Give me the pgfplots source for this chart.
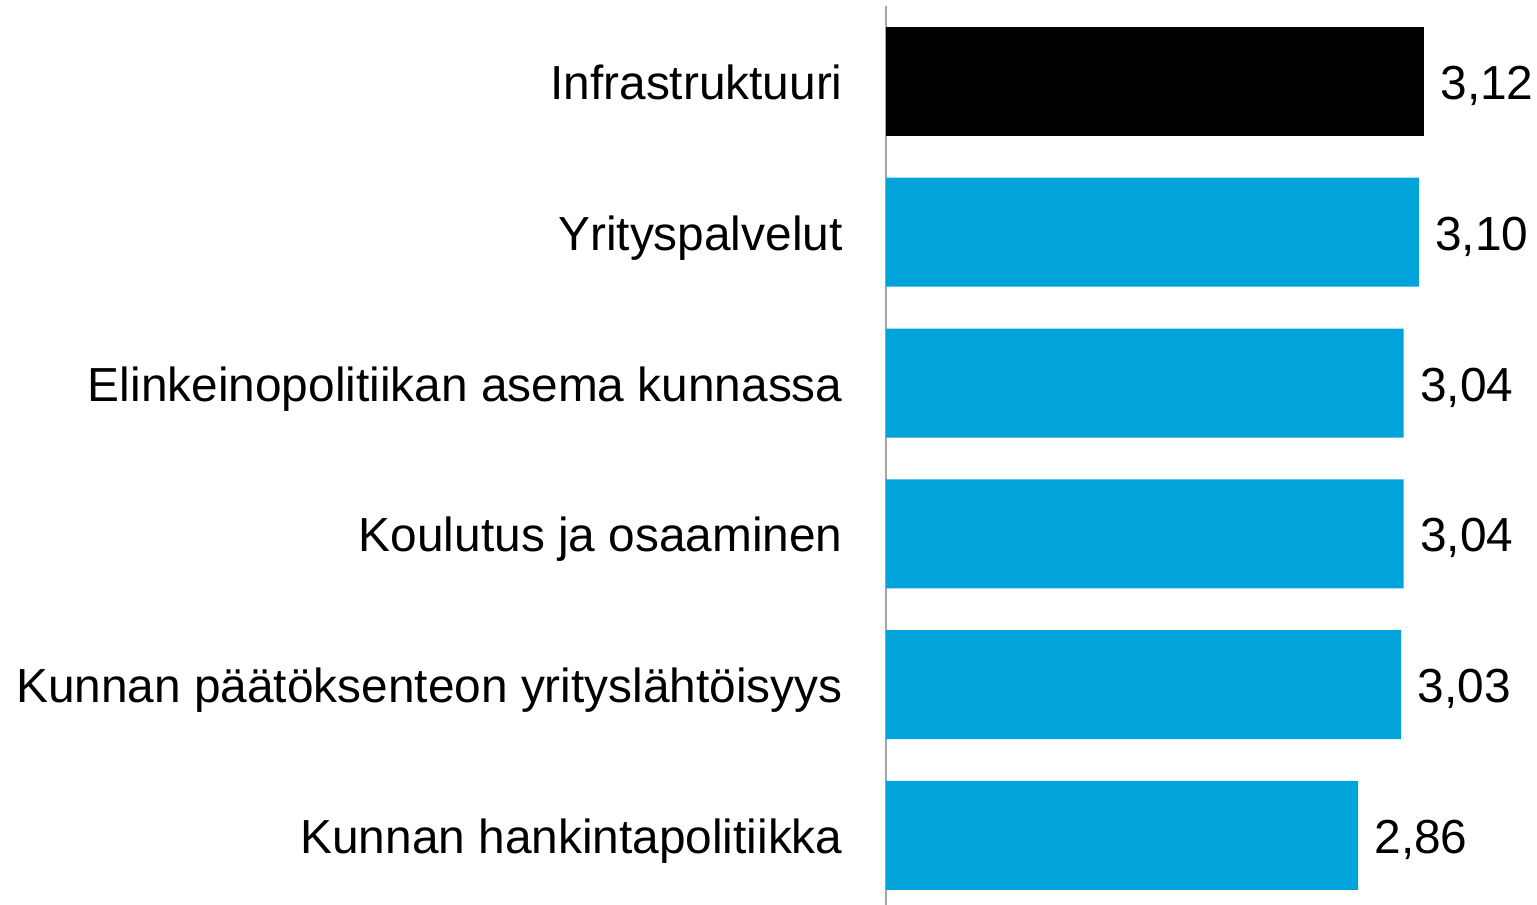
\documentclass[border=0pt]{standalone}
\usepackage{fontspec}
\setmainfont{Liberation Sans}
\usepackage{pgfplots}
\pgfplotsset{compat=1.18}
\definecolor{barblue}{RGB}{0,163,218}
\begin{document}
\begin{tikzpicture}
\useasboundingbox (-443pt,2.9pt) rectangle (325.5pt,455.4pt);
\begin{axis}[
  at={(0,0)}, anchor=south west,
  scale only axis,
  width=317.25pt, height=452.4pt,
  xbar, bar width=54.5pt, bar shift=0pt,
  xmin=1, xmax=3.5,
  ymin=-0.5, ymax=5.5,
  y dir=reverse,
  axis y line*=left, axis x line=none,
  y axis line style={gray!70, line width=0.65pt},
  xtick=\empty,
  ytick={0,1,2,3,4,5},
  yticklabels={Infrastruktuuri,Yrityspalvelut,Elinkeinopolitiikan asema kunnassa,Koulutus ja osaaminen,Kunnan päätöksenteon yrityslähtöisyys,Kunnan hankintapolitiikka},
  major tick length=0pt,
  yticklabel style={font=\fontsize{23.9}{29}\selectfont, anchor=base east, inner sep=0pt, xshift=-21.5pt, yshift=-9pt},
  nodes near coords,
  /pgf/number format/.cd, use comma, fixed, fixed zerofill, precision=2, assume math mode=true,
  /pgfplots/.cd,
  every node near coord/.style={font=\fontsize{23.9}{29}\selectfont, anchor=base west, inner sep=0pt, xshift=8pt, yshift=-9pt, black},
]
\addplot[fill=black, draw=none] coordinates {(3.12,0)};
\addplot[fill=barblue, draw=none] coordinates {(3.10,1) (3.04,2) (3.04,3) (3.03,4) (2.86,5)};
\end{axis}
\end{tikzpicture}
\end{document}
